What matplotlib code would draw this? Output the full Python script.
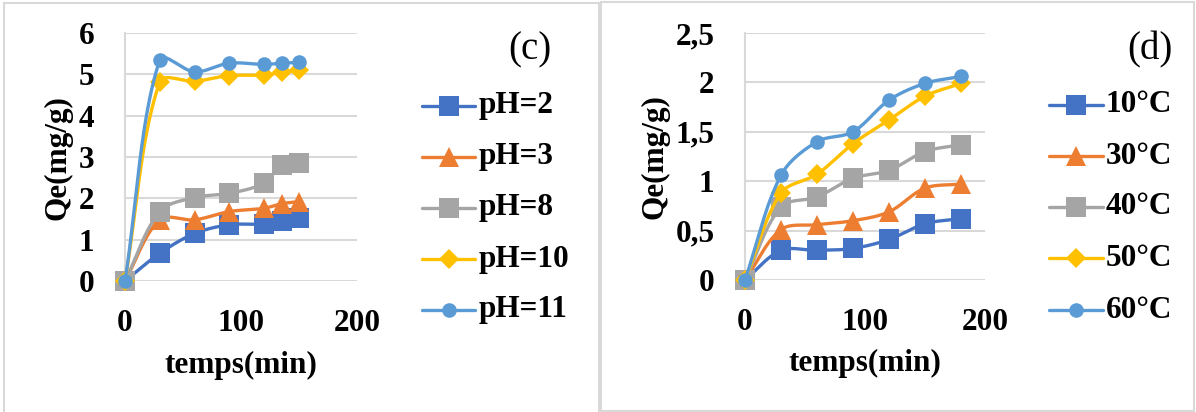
import numpy as np
import matplotlib
matplotlib.use("Agg")
import matplotlib.pyplot as plt
from matplotlib.patches import Rectangle

# ---------------- data ----------------
time_c = [0, 30, 60, 90, 120, 135, 150]
ph_labels = ["pH=2", "pH=3", "pH=8", "pH=10", "pH=11"]
ph2 = [0, 0.67, 1.15, 1.36, 1.38, 1.46, 1.52]
ph3 = [0, 1.48, 1.48, 1.68, 1.76, 1.87, 1.92]
ph8 = [0, 1.68, 2.02, 2.12, 2.37, 2.81, 2.85]
ph10 = [0, 4.82, 4.83, 4.97, 4.98, 5.05, 5.10]
ph11 = [0, 5.35, 5.06, 5.27, 5.24, 5.27, 5.29]

time_d = [0, 30, 60, 90, 120, 150, 180]
temp_labels = ["10°C", "30°C", "40°C", "50°C", "60°C"]
t10 = [0, 0.30, 0.30, 0.32, 0.41, 0.57, 0.62]
t30 = [0, 0.51, 0.56, 0.60, 0.69, 0.93, 0.97]
t40 = [0, 0.74, 0.84, 1.03, 1.11, 1.30, 1.37]
t50 = [0, 0.88, 1.07, 1.38, 1.62, 1.86, 1.99]
t60 = [0, 1.06, 1.40, 1.50, 1.82, 1.99, 2.06]

yticks_c = [0, 1, 2, 3, 4, 5, 6]
yticks_d = [0, 0.5, 1, 1.5, 2, 2.5]
ytick_labels_d = ["0", "0,5", "1", "1,5", "2", "2,5"]
xticks = [0, 100, 200]

# ---------------- styles ----------------
colors = ["#4472C4", "#ED7D31", "#A5A5A5", "#FFC000", "#5B9BD5"]
markers = ["s", "^", "s", "D", "o"]
msizes = [14.5, 15, 14.5, 10.5, 10.5]

FONT = "Liberation Serif"
FS = 22.5
W, H = 1196, 412


def smooth_px(P, n=30):
    """Excel-like smoothed curve in pixel space: Bezier segments whose
    control points follow the neighbour chord, weighted by segment lengths."""
    P = np.asarray(P, float)
    m = len(P)
    out = []
    t = np.linspace(0, 1, n)[:, None]
    for i in range(m - 1):
        p1, p2 = P[i], P[i + 1]
        p0 = P[i - 1] if i > 0 else P[i]
        p3 = P[i + 2] if i + 2 < m else P[i + 1]
        L01 = np.linalg.norm(p1 - p0)
        L12 = np.linalg.norm(p2 - p1)
        L23 = np.linalg.norm(p3 - p2)
        # forward control from p1
        if L01 + L12 > 0:
            c1 = p1 + (p2 - p0) / 3 * (L12 / (L01 + L12))
        else:
            c1 = p1
        if L12 + L23 > 0:
            c2 = p2 - (p3 - p1) / 3 * (L12 / (L12 + L23))
        else:
            c2 = p2
        b = (1 - t) ** 3 * p1 + 3 * (1 - t) ** 2 * t * c1 + 3 * (1 - t) * t ** 2 * c2 + t ** 3 * p2
        out.append(b)
    return np.vstack(out)


fig = plt.figure(figsize=(W / 100, H / 100), dpi=100)


def fx(px):
    return px / W


def fy(py):
    return 1 - py / H


# panel borders
fig.patches.append(Rectangle((fx(4), fy(420)), fx(599) - fx(4), fy(3) - fy(420),
                             transform=fig.transFigure, fill=False,
                             edgecolor="#D9D9D9", linewidth=1.5, zorder=0))
fig.patches.append(Rectangle((fx(600.5), fy(411)), fx(1194) - fx(600.5), fy(2) - fy(411),
                             transform=fig.transFigure, fill=False,
                             edgecolor="#D9D9D9", linewidth=1.5, zorder=0))


def make_panel(rect, xdata, series, labels, yticks, ytlabels, ylim, tag, tagpos,
               legpos, ylabpos, xlabpos):
    ax = fig.add_axes(rect)
    ax.set_xlim(0, 200)
    ax.set_ylim(*ylim)
    for i, (yv, lab) in enumerate(zip(series, labels)):
        pts = ax.transData.transform(np.column_stack([xdata, yv]))
        curve = ax.transData.inverted().transform(smooth_px(pts))
        ax.plot(curve[:, 0], curve[:, 1], color=colors[i], lw=2.4, zorder=3 + i,
                clip_on=False, solid_capstyle="round")
        ax.plot(xdata, yv, linestyle="none", marker=markers[i], ms=msizes[i],
                color=colors[i], markeredgewidth=0, zorder=3 + i, clip_on=False)
    ax.set_xticks(xticks)
    ax.set_xticklabels([str(v) for v in xticks], fontfamily=FONT,
                       fontweight="bold", fontsize=FS)
    ax.set_yticks(yticks)
    ax.set_yticklabels(ytlabels, fontfamily=FONT, fontweight="bold", fontsize=FS)
    ax.tick_params(length=0)
    ax.tick_params(axis="y", pad=22)
    ax.tick_params(axis="x", pad=20)
    ax.grid(axis="y", color="#D9D9D9", lw=1.5, zorder=0)
    ax.set_axisbelow(True)
    for s in ["top", "right", "bottom"]:
        ax.spines[s].set_visible(False)
    ax.spines["left"].set_color("#D9D9D9")
    ax.spines["left"].set_linewidth(1.5)

    fig.text(fx(xlabpos[0]), fy(xlabpos[1]), "temps(min)", fontfamily=FONT,
             fontweight="bold", fontsize=FS, ha="center", va="center")
    fig.text(fx(ylabpos[0]), fy(ylabpos[1]), "Qe(mg/g)", fontfamily=FONT,
             fontweight="bold", fontsize=FS, ha="center", va="center",
             rotation=90)
    fig.text(fx(tagpos[0]), fy(tagpos[1]), tag, fontfamily=FONT, fontsize=28,
             ha="center", va="center")

    # legend drawn manually
    hx0, hx1, tx, rows = legpos
    for i, lab in enumerate(labels):
        yy = fy(rows[i])
        fig.add_artist(plt.Line2D([fx(hx0), fx(hx1)], [yy, yy],
                                  transform=fig.transFigure, color=colors[i],
                                  lw=2.4, solid_capstyle="round"))
        fig.add_artist(plt.Line2D([fx((hx0 + hx1) / 2)], [yy],
                                  transform=fig.transFigure, color=colors[i],
                                  marker=markers[i], ms=msizes[i],
                                  markeredgewidth=0, linestyle="none"))
        fig.text(fx(tx), yy, lab, fontfamily=FONT, fontweight="bold",
                 fontsize=FS, ha="left", va="center")
    return ax


rows_c = [106, 157, 208, 259, 310]
make_panel([fx(125), fy(281), fx(357) - fx(125), fy(33) - fy(281)],
           time_c, [ph2, ph3, ph8, ph10, ph11], ph_labels,
           yticks_c, [str(v) for v in yticks_c], (0, 6),
           "(c)", (530, 50), (422, 475, 479, rows_c), (58, 158), (241, 365))

rows_d = [105, 156, 207, 258, 310]
make_panel([fx(745), fy(280), fx(985) - fx(745), fy(33) - fy(280)],
           time_d, [t10, t30, t40, t50, t60], temp_labels,
           yticks_d, ytick_labels_d, (0, 2.5),
           "(d)", (1150, 50), (1049, 1103, 1106, rows_d), (655, 157), (865, 363))

fig.savefig("out.png", dpi=100)
